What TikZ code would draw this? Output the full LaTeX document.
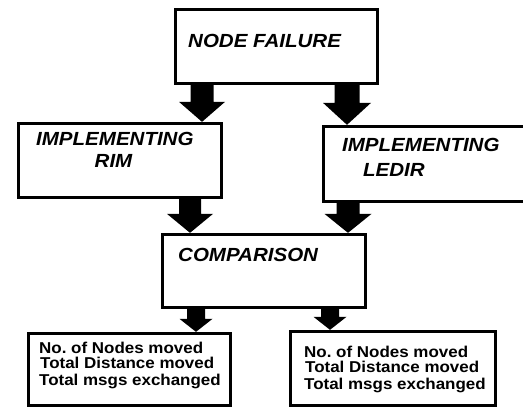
\documentclass[tikz,border=0pt]{standalone}
\usepackage{fontspec}
\setmainfont{Liberation Sans}
\newfontfamily\figfont[FakeStretch=1.08]{Liberation Sans}
\usetikzlibrary{calc}
\frenchspacing
\tikzset{
  box/.style={draw, line width=3.3pt, inner sep=0pt},
  hdr/.style={inner sep=0pt, font=\figfont\fontsize{19}{22}\selectfont\bfseries\itshape},
  body/.style={inner sep=0pt, anchor=base west, font=\figfont\fontsize{15.7}{16}\selectfont\bfseries}
}
% block arrow: start, end, shaft width, head width, head length
\newcommand\blockarrow[5]{%
  \fill let \p1=(#1), \p2=(#2) in
  (\x1-#3/2,\y1) -- (\x1-#3/2,\y2+#5) -- (\x1-#4/2,\y2+#5) -- (\x1,\y2)
  -- (\x1+#4/2,\y2+#5) -- (\x1+#3/2,\y2+#5) -- (\x1+#3/2,\y1) -- cycle;}
\begin{document}
\begin{tikzpicture}[x=1pt,y=-1pt]
\useasboundingbox (0,0) rectangle (523,409);
\fill[white] (0,0) rectangle (523,409);

% boxes
\node[box, minimum width=202pt, minimum height=74pt] (nf) at (276.5,46.5) {};
\node[box, minimum width=203pt, minimum height=74pt] (rim) at (120,160.5) {};
\node[box, minimum width=201.5pt, minimum height=75pt] (ledir) at (424.25,164) {};
\node[box, minimum width=203pt, minimum height=73pt] (cmp) at (264,271) {};
\node[box, minimum width=202pt, minimum height=72pt] (bl) at (129.5,369.5) {};
\node[box, minimum width=205pt, minimum height=74pt] (br) at (393,368.5) {};

% texts
\node[hdr, anchor=base west] (tnf) at (188,48) {NODE FAILURE};
\node[hdr, anchor=base west] (trim1) at (36,146) {IMPLEMENTING};
\node[hdr, anchor=base] (trim2) at (113.5,168) {RIM};
\node[hdr, anchor=base west] (tled1) at (342,152) {IMPLEMENTING};
\node[hdr, anchor=base west] (tled2) at (363,177) {LEDIR};
\node[hdr, anchor=base west] (tcmp) at (178,262) {COMPARISON};

\node[body] (bl1) at (39,353) {No. of Nodes moved};
\node[body] (bl2) at (40,369) {Total Distance moved};
\node[body] (bl3) at (39,385) {Total msgs exchanged};
\node[body] (br1) at (304,357) {No. of Nodes moved};
\node[body] (br2) at (305,373) {Total Distance moved};
\node[body] (br3) at (304,389) {Total msgs exchanged};

% connectors
\blockarrow{[xshift=-74.5pt]nf.south}{rim.north}{23pt}{46pt}{20pt}
\blockarrow{[xshift=70.5pt]nf.south}{ledir.north}{25pt}{48pt}{22pt}
\blockarrow{[xshift=70pt]rim.south}{cmp.north}{22pt}{46pt}{19pt}
\blockarrow{[xshift=-76.25pt]ledir.south}{cmp.north}{23pt}{47pt}{19pt}
\blockarrow{[xshift=-68pt]cmp.south}{bl.north}{18pt}{33pt}{13pt}
\blockarrow{[xshift=66pt]cmp.south}{br.north}{18pt}{33pt}{13pt}
\end{tikzpicture}
\end{document}
